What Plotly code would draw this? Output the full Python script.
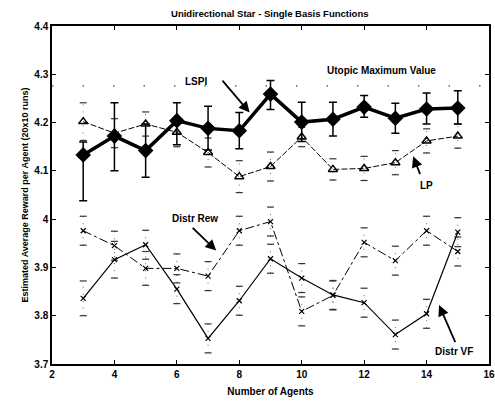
import plotly.graph_objects as go

agents = [3, 4, 5, 6, 7, 8, 9, 10, 11, 12, 13, 14, 15]
lspi = [4.133, 4.172, 4.142, 4.204, 4.188, 4.183, 4.259, 4.201, 4.207, 4.232, 4.209, 4.228, 4.230]
lspi_err_plus = [0.027, 0.069, 0.055, 0.037, 0.046, 0.038, 0.028, 0.041, 0.035, 0.024, 0.031, 0.033, 0.036]
lspi_err_minus = [0.095, 0.072, 0.055, 0.050, 0.045, 0.037, 0.032, 0.040, 0.035, 0.021, 0.031, 0.031, 0.033]
lp = [4.202, 4.178, 4.197, 4.180, 4.138, 4.088, 4.109, 4.170, 4.103, 4.105, 4.117, 4.162, 4.172]
lp_err = [0.039, 0.030, 0.025, 0.030, 0.030, 0.033, 0.030, 0.020, 0.022, 0.025, 0.025, 0.025, 0.025]
distr_rew = [3.976, 3.945, 3.898, 3.898, 3.882, 3.976, 3.995, 3.809, 3.842, 3.952, 3.914, 3.976, 3.933]
distr_rew_err = [0.030, 0.030, 0.035, 0.030, 0.030, 0.030, 0.030, 0.030, 0.030, 0.030, 0.030, 0.030, 0.030]
distr_vf = [3.836, 3.916, 3.947, 3.855, 3.753, 3.831, 3.918, 3.878, 3.843, 3.827, 3.761, 3.804, 3.973]
distr_vf_err = [0.036, 0.038, 0.030, 0.030, 0.030, 0.030, 0.030, 0.030, 0.030, 0.030, 0.030, 0.030, 0.030]
utopic_max = 4.276

x_ticks = [2, 4, 6, 8, 10, 12, 14, 16]
y_ticks = [3.7, 3.8, 3.9, 4.0, 4.1, 4.2, 4.3, 4.4]
y_ticktext = ["3.7", "3.8", "3.9", "4", "4.1", "4.2", "4.3", "4.4"]

FONT = "Liberation Sans, Arial, sans-serif"
fig = go.Figure()


def dotted_errors(xs, ys, es):
    ex, ey = [], []
    cx, cy = [], []
    for x, y, e in zip(xs, ys, es):
        ex += [x, x, None]
        ey += [y - e, y + e, None]
        cx += [x, x]
        cy += [y - e, y + e]
    fig.add_trace(go.Scatter(x=ex, y=ey, mode="lines", line=dict(color="#666", width=1, dash="1px,6px"),
                             hoverinfo="skip", showlegend=False))
    fig.add_trace(go.Scatter(x=cx, y=cy, mode="markers",
                             marker=dict(symbol="line-ew-open", size=5, color="#333",
                                         line=dict(color="#333", width=1.2)),
                             hoverinfo="skip", showlegend=False))


# utopic maximum dotted line
fig.add_trace(go.Scatter(x=[2, 16], y=[utopic_max, utopic_max], mode="lines",
                         line=dict(color="#444", width=1.2, dash="1.5px,29px"), showlegend=False, hoverinfo="skip"))

dotted_errors(agents, lp, lp_err)
dotted_errors(agents, distr_rew, distr_rew_err)
dotted_errors(agents, distr_vf, distr_vf_err)

fig.add_trace(go.Scatter(x=agents, y=lp, mode="lines+markers", name="LP",
                         line=dict(color="black", width=1, dash="6px,2px"),
                         marker=dict(symbol="triangle-up-open", size=8, color="black", line=dict(width=1.5))))
fig.add_trace(go.Scatter(x=agents, y=distr_rew, mode="lines+markers", name="Distr Rew",
                         line=dict(color="black", width=1, dash="dashdot"),
                         marker=dict(symbol="x-thin", size=5, color="black", line=dict(width=1.2, color="black"))))
fig.add_trace(go.Scatter(x=agents, y=distr_vf, mode="lines+markers", name="Distr VF",
                         line=dict(color="black", width=1.2),
                         marker=dict(symbol="x-thin", size=5, color="black", line=dict(width=1.2, color="black"))))
fig.add_trace(go.Scatter(x=agents, y=lspi, mode="lines+markers", name="LSPI",
                         line=dict(color="black", width=3.5),
                         marker=dict(symbol="diamond", size=12, color="black"),
                         error_y=dict(type="data", symmetric=False, array=lspi_err_plus,
                                      arrayminus=lspi_err_minus, color="black", thickness=1.5, width=4)))

labels = [
    ("LSPI", 6.6, 4.286),
    ("Utopic Maximum Value", 12.54, 4.307),
    ("LP", 14.01, 4.069),
    ("Distr Rew", 6.57, 4.002),
    ("Distr VF", 14.87, 3.726),
]
for t, x, y in labels:
    fig.add_annotation(x=x, y=y, text="<b>%s</b>" % t, showarrow=False,
                       font=dict(family=FONT, size=10, color="black"))

arrows = [
    ((7.42, 4.29), (8.33, 4.221)),
    ((13.81, 4.09), (13.57, 4.13)),
    ((6.46, 3.985), (7.26, 3.935)),
    ((14.94, 3.742), (14.4, 3.822)),
]
for (tx, ty), (hx, hy) in arrows:
    fig.add_annotation(x=hx, y=hy, ax=tx, ay=ty, xref="x", yref="y", axref="x", ayref="y",
                       text="", showarrow=True, arrowhead=2, arrowsize=1.2, arrowwidth=1.8, arrowcolor="black")

axis_common = dict(showline=True, linecolor="black", linewidth=1.5, mirror="ticks", ticks="inside",
                   ticklen=4, tickwidth=1, tickcolor="black", showgrid=False, zeroline=False,
                   automargin=False,
                   tickfont=dict(family=FONT, size=10, color="black", weight="bold"))

fig.update_layout(
    width=495, height=401,
    margin=dict(l=52, r=6, t=26, b=37),
    paper_bgcolor="white", plot_bgcolor="white",
    showlegend=False,
    title=dict(text="<b>Unidirectional Star - Single Basis Functions</b>", x=0.545, xanchor="center",
               y=0.965, yanchor="middle", font=dict(family=FONT, size=9.5, color="black"),
               automargin=False),
    xaxis=dict(range=[2, 16], tickvals=x_ticks, ticktext=[str(v) for v in x_ticks],
               title=dict(text="<b>Number of Agents</b>", font=dict(family=FONT, size=10, color="black"), standoff=9),
               **axis_common),
    yaxis=dict(range=[3.7, 4.4], tickvals=y_ticks, ticktext=y_ticktext,
               title=dict(text="<b>Estimated Average Reward per Agent (20x10 runs)</b>",
                          font=dict(family=FONT, size=9, color="black"), standoff=4),
               **axis_common),
)

fig.write_html("out.html", config={"displayModeBar": False},
               post_script="document.body.style.margin='0';document.body.style.padding='0';")
